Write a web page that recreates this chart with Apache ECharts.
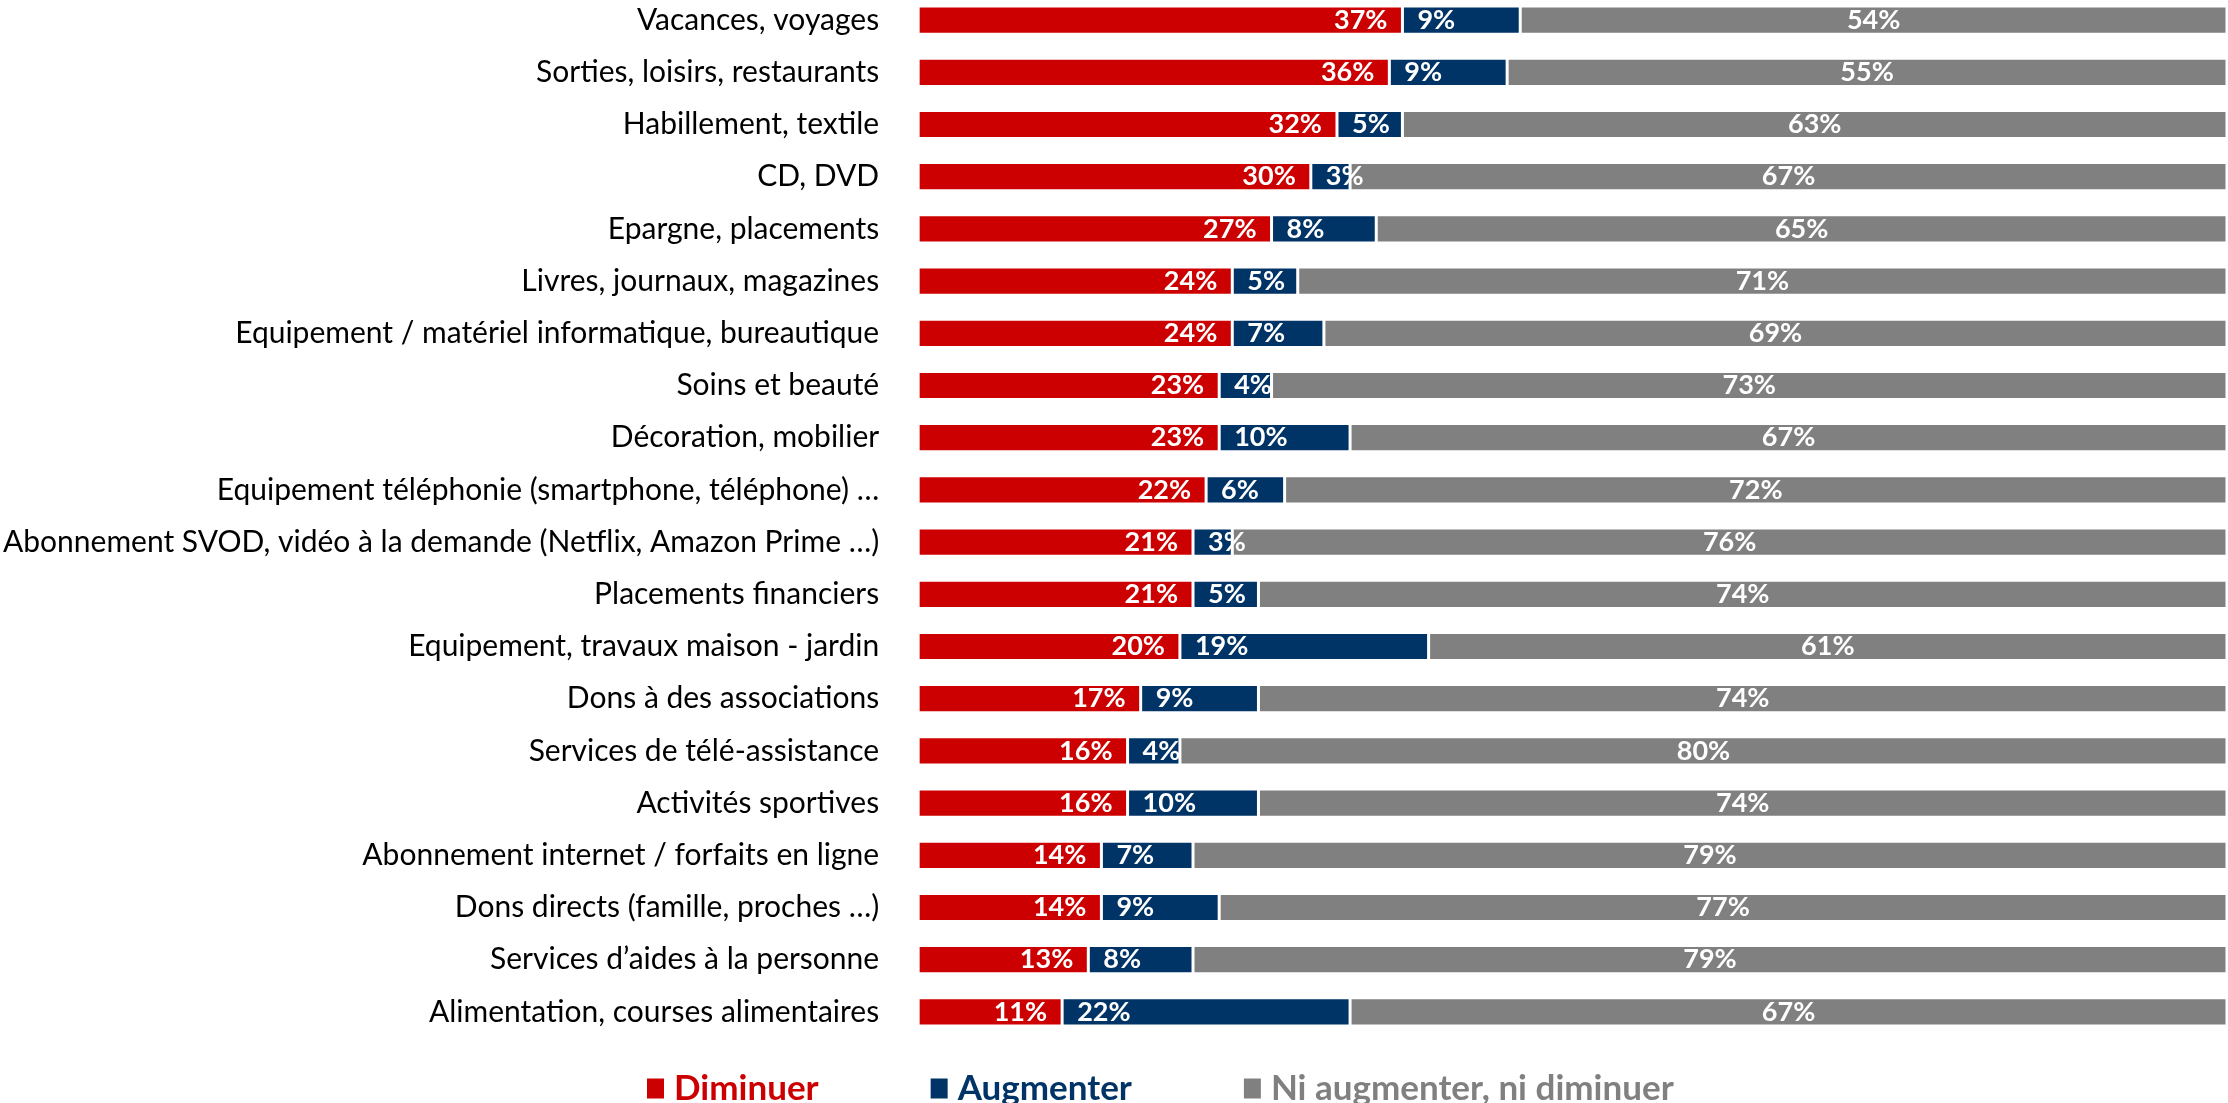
<!DOCTYPE html>
<html>
<head>
<meta charset="utf-8">
<script src="https://cdn.jsdelivr.net/npm/echarts@6/dist/echarts.min.js"></script>
<style>
html,body{margin:0;padding:0;background:#fff;overflow:hidden;}
#chart{width:2228px;height:1123px;position:relative;top:-20px;}
</style>
</head>
<body>
<div id="chart"></div>
<script>
const categories = [
  "Vacances, voyages",
  "Sorties, loisirs, restaurants",
  "Habillement, textile",
  "CD, DVD",
  "Epargne, placements",
  "Livres, journaux, magazines",
  "Equipement / matériel informatique, bureautique",
  "Soins et beauté",
  "Décoration, mobilier",
  "Equipement téléphonie (smartphone, téléphone) …",
  "Abonnement SVOD, vidéo à la demande (Netflix, Amazon Prime …)",
  "Placements financiers",
  "Equipement, travaux maison - jardin",
  "Dons à des associations",
  "Services de télé-assistance",
  "Activités sportives",
  "Abonnement internet / forfaits en ligne",
  "Dons directs (famille, proches …)",
  "Services d’aides à la personne",
  "Alimentation, courses alimentaires"
];
const diminuer = [37,36,32,30,27,24,24,23,23,22,21,21,20,17,16,16,14,14,13,11];
const augmenter = [9,9,5,3,8,5,7,4,10,6,3,5,19,9,4,10,7,9,8,22];
const niNi = [54,55,63,67,65,71,69,73,67,72,76,74,61,74,80,74,79,77,79,67];
const seriesNames = ["Diminuer","Augmenter","Ni augmenter, ni diminuer"];
const colors = ["#CC0000","#003366","#808080"];

const chart = echarts.init(document.getElementById('chart'));
const labelFont = {color:'#fff', fontWeight:'bold', fontSize:27, fontFamily:'Lato'};
function mk(i, data, pos){
  return {
    name: seriesNames[i], type:'bar', stack:'t', data:data,
    barWidth:'54%',
    itemStyle:{color:colors[i], borderColor:'#fff', borderWidth:1.5},
    label:Object.assign({show:true, position:pos, distance:15, formatter:'{c}%'}, labelFont),
    emphasis:{disabled:true}
  };
}
chart.setOption({
  animation:false,
  grid:{left:917, right:1, top:14, height:1044, containLabel:false},
  xAxis:{type:'value', min:0, max:100, show:false},
  yAxis:{type:'category', data:categories, inverse:true,
    axisLine:{show:false}, axisTick:{show:false}, splitLine:{show:false},
    axisLabel:{margin:39, color:'#000', fontSize:30, fontFamily:'Lato'}},
  legend:{
    left:640, top:1086, itemGap:110, itemWidth:19, itemHeight:22, icon:'rect',
    textStyle:{fontSize:35, fontWeight:'bold', fontFamily:'Lato', padding:[0,0,0,4]},
    data: seriesNames.map((n,i)=>({name:n, textStyle:{color:colors[i]}}))
  },
  series:[mk(0,diminuer,'insideRight'), mk(1,augmenter,'insideLeft'), mk(2,niNi,'inside')]
});
</script>
</body>
</html>
